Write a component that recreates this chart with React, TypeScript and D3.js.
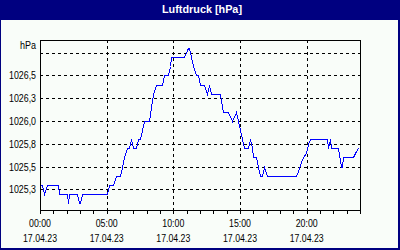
import React from 'react';
import * as d3 from 'd3';

const times = [
  "00:00","00:10","00:20","00:30","01:20","01:25","02:00","02:05","02:10","02:45","02:55","03:00","03:10",
  "05:00","05:10","05:30","05:40","06:00","06:10","06:20","06:30","06:40","06:50","07:00","07:10","07:20",
  "07:30","07:40","07:50","08:10","08:20","08:30","08:40","09:10","09:20","09:35","09:45","09:50",
  "10:50","11:05","11:10","11:20","11:30","11:40","11:50","12:00","12:20","12:30","12:40","12:50","13:30",
  "13:45","14:05","14:25","14:40","14:50","15:00","15:10","15:20","15:35","15:45","15:55","16:00","16:10",
  "16:20","16:30","16:40","16:50","17:00","19:10","19:20","19:35","19:45","19:55","20:05","20:15","21:30",
  "21:37","21:45","21:48","22:20","22:35","22:40","22:45","23:30","23:38","23:50"
];
const pressure = [
  1025.3,1025.3,1025.2,1025.3,1025.3,1025.2,1025.2,1025.1,1025.2,1025.2,1025.1,1025.1,1025.2,
  1025.2,1025.3,1025.3,1025.4,1025.4,1025.5,1025.6,1025.7,1025.7,1025.8,1025.7,1025.7,1025.8,
  1025.8,1025.9,1026.0,1026.0,1026.15,1026.3,1026.4,1026.4,1026.5,1026.5,1026.6,1026.7,
  1026.7,1026.8,1026.8,1026.7,1026.6,1026.5,1026.5,1026.4,1026.4,1026.3,1026.4,1026.3,1026.3,
  1026.1,1026.1,1026.0,1026.1,1026.0,1025.9,1025.8,1025.7,1025.7,1025.8,1025.7,1025.6,1025.6,
  1025.5,1025.4,1025.4,1025.5,1025.4,1025.4,1025.45,1025.55,1025.6,1025.65,1025.75,1025.8,1025.8,
  1025.7,1025.8,1025.7,1025.7,1025.5,1025.5,1025.6,1025.6,1025.65,1025.7
];
const gridValues = [1025.25, 1025.5, 1025.75, 1026.0, 1026.25, 1026.5, 1026.75];
const yTickValues = [1025.25, 1025.5, 1025.75, 1026.0, 1026.25, 1026.5];
const yTickLabels = ["1025,3", "1025,5", "1025,8", "1026,0", "1026,3", "1026,5"];
const xTickHours = [0, 5, 10, 15, 20];
const xTickLabels = ["00:00", "05:00", "10:00", "15:00", "20:00"];
const dateLabel = "17.04.23";
const title = "Luftdruck [hPa]";
const unit = "hPa";

const toHours = (t: string) => {
  const [h, m] = t.split(":").map(Number);
  return h + m / 60;
};

export default function App() {
  const W = 400, H = 250;
  const L = 40, R = 360, T = 40, B = 210;
  const x = d3.scaleLinear().domain([0, 24]).range([L, R]);
  const y = d3.scaleLinear().domain([1025.25, 1026.75]).range([189.3, 52.7]);
  const data = times.map((t, i) => ({ h: toHours(t), v: pressure[i] }));
  const line = d3.line<{ h: number; v: number }>()
    .x(d => Math.round(x(d.h)) + 0.5)
    .y(d => Math.round(y(d.v)) + 0.5);
  const bg = "#f9fdf9";
  const font = "'Liberation Sans', Arial, sans-serif";
  const px = (v: number) => Math.round(v) + 0.5;
  const hours = d3.range(0, 25);

  return (
    <svg width={W} height={H} style={{ position: 'absolute', left: 0, top: 0, display: 'block' }}>
      <rect x={0} y={0} width={W} height={H} fill="#000080" />
      <rect x={1} y={20} width={397} height={228} fill={bg} />
      <text x={202} y={12.5} fill="#ffffff" fontFamily={font} fontWeight="bold" fontSize={11}
        textAnchor="middle" textLength={80} lengthAdjust="spacingAndGlyphs">{title}</text>

      <g shapeRendering="crispEdges">
        {gridValues.map((v, i) => (
          <line key={'hg' + i} x1={L} x2={R} y1={px(y(v))} y2={px(y(v))} stroke="#000" strokeDasharray="3,3" />
        ))}
        {xTickHours.slice(1).map((h, i) => (
          <line key={'vg' + i} x1={px(x(h))} x2={px(x(h))} y1={T} y2={B} stroke="#000" strokeDasharray="3,3" />
        ))}
        {hours.map(h => (
          <line key={'t' + h} x1={px(x(h))} x2={px(x(h))} y1={B} y2={B + 4} stroke="#000" />
        ))}
        <rect x={L + 0.5} y={T + 0.5} width={R - L} height={B - T} fill="none" stroke="#000" />
        <path d={line(data) || ''} fill="none" stroke="#0000ff" strokeWidth={1} />
      </g>

      <text x={36} y={49} fontFamily={font} fontSize={10} textAnchor="end" fill="#000"
        textLength={16} lengthAdjust="spacingAndGlyphs">{unit}</text>
      {yTickValues.map((v, i) => (
        <text key={'yl' + i} x={36} y={y(v) + 4} fontFamily={font} fontSize={10} textAnchor="end" fill="#000"
          textLength={27} lengthAdjust="spacingAndGlyphs">{yTickLabels[i]}</text>
      ))}
      {xTickHours.map((h, i) => (
        <g key={'xl' + i}>
          <text x={x(h)} y={227} fontFamily={font} fontSize={10} textAnchor="middle" fill="#000"
            textLength={22} lengthAdjust="spacingAndGlyphs">{xTickLabels[i]}</text>
          <text x={x(h)} y={242} fontFamily={font} fontSize={10} textAnchor="middle" fill="#000"
            textLength={34} lengthAdjust="spacingAndGlyphs">{dateLabel}</text>
        </g>
      ))}
    </svg>
  );
}
